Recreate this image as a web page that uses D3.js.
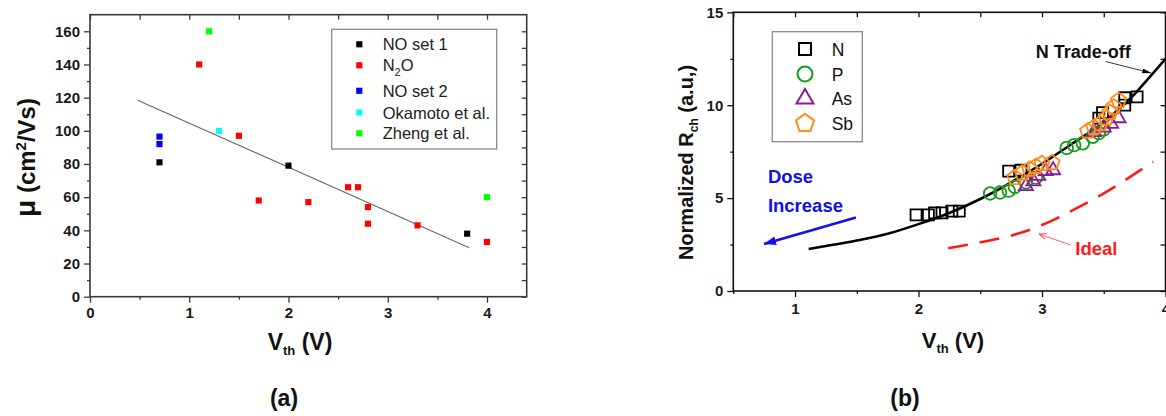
<!DOCTYPE html>
<html>
<head>
<meta charset="utf-8">
<script src="https://cdn.jsdelivr.net/npm/d3@7"></script>
<style>
  html, body { margin: 0; padding: 0; background: #fff; }
  svg { display: block; font-family: "Liberation Sans", Arial, sans-serif; }
</style>
</head>
<body>
<svg id="chart" width="1166" height="416"></svg>
<script>
// ---------- panel (a): mobility vs threshold voltage ----------
const aXTicks = [0, 1, 2, 3, 4];
const aXMinor = [0.5, 1.5, 2.5, 3.5];
const aYTicks = [0, 20, 40, 60, 80, 100, 120, 140, 160];
const aYMinor = [10, 30, 50, 70, 90, 110, 130, 150];

const aSeriesNames = ["NO set 1", "N2O", "NO set 2", "Okamoto et al.", "Zheng et al."];
const aSeriesColors = ["#000000", "#ff0000", "#0000ff", "#00ffff", "#00ff00"];

const noSet1Vth = [0.7, 2.0, 3.8];
const noSet1Mu  = [81, 79, 38];
const n2oVth = [1.1, 1.5, 1.7, 2.2, 2.6, 2.7, 2.8, 2.8, 3.3, 4.0];
const n2oMu  = [140, 97, 58, 57, 66, 66, 54, 44, 43, 33];
const noSet2Vth = [0.7, 0.7];
const noSet2Mu  = [96.5, 92];
const okamotoVth = [1.3];
const okamotoMu  = [100];
const zhengVth = [1.2, 4.0];
const zhengMu  = [160, 60];
const fitVth = [0.48, 3.82];
const fitMu  = [118.5, 29.5];

// ---------- panel (b): normalized channel resistance vs threshold voltage ----------
const bXTicks = [1, 2, 3, 4];
const bXMinor = [0.5, 1.5, 2.5, 3.5];
const bYTicks = [0, 5, 10, 15];
const bYMinor = [2.5, 7.5, 12.5];

const bSeriesNames = ["N", "P", "As", "Sb"];
const bSeriesColors = ["#000000", "#1a9a1a", "#8a1a9a", "#ff8c1a"];

const nVth = [1.98, 2.08, 2.13, 2.19, 2.27, 2.33, 2.73, 2.83, 3.46, 3.49, 3.67, 3.67, 3.77];
const nR   = [4.1, 4.1, 4.2, 4.2, 4.3, 4.3, 6.45, 6.5, 9.3, 9.6, 10.0, 10.4, 10.45];
const pVth = [2.58, 2.66, 2.73, 2.78, 2.87, 2.95, 3.2, 3.26, 3.33, 3.41, 3.46, 3.5];
const pR   = [5.25, 5.3, 5.4, 5.6, 5.85, 6.1, 7.7, 7.85, 7.95, 8.3, 8.5, 8.7];
const asVth = [2.87, 2.93, 2.97, 3.03, 3.09, 3.42, 3.5, 3.56, 3.62];
const asR   = [5.65, 5.9, 6.2, 6.45, 6.5, 8.55, 8.8, 9.0, 9.3];
const sbVth = [2.78, 2.84, 2.9, 2.95, 3.0, 3.08, 3.37, 3.42, 3.47, 3.52, 3.55, 3.58, 3.62];
const sbR   = [6.1, 6.35, 6.55, 6.7, 6.85, 6.9, 8.6, 8.8, 9.0, 9.3, 9.6, 9.9, 10.25];

const tradeVth = [1.11, 1.25, 1.5, 1.75, 2.0, 2.25, 2.5, 2.75, 3.0, 3.25, 3.5, 3.75, 3.87, 4.0];
const tradeR   = [2.26, 2.42, 2.72, 3.08, 3.6, 4.2, 4.95, 5.85, 6.85, 7.95, 9.1, 10.6, 11.5, 12.5];
const idealVth = [2.24, 2.5, 2.75, 3.0, 3.25, 3.5, 3.75, 3.9];
const idealR   = [2.3, 2.62, 2.98, 3.55, 4.35, 5.25, 6.3, 6.95];

const zip = (xs, ys) => xs.map((v, i) => [v, ys[i]]);

const svg = d3.select("#chart");
svg.append("rect").attr("width", 1166).attr("height", 416).attr("fill", "#fff");

const defs = svg.append("defs");
function arrowMarker(id, color, w, h, open) {
  const m = defs.append("marker").attr("id", id)
    .attr("viewBox", `0 0 ${w} ${h}`).attr("refX", w).attr("refY", h / 2)
    .attr("markerWidth", w).attr("markerHeight", h)
    .attr("markerUnits", "userSpaceOnUse").attr("orient", "auto");
  if (open) {
    m.append("path").attr("d", `M0,0L${w},${h / 2}L0,${h}`).attr("fill", "none")
      .attr("stroke", color).attr("stroke-width", 1);
  } else {
    m.append("path").attr("d", `M0,0L${w},${h / 2}L0,${h}Z`).attr("fill", color);
  }
}
arrowMarker("headBlue", "#1010ee", 12, 9, false);
arrowMarker("headBlack", "#000", 9, 5, false);
arrowMarker("headRed", "#ff4040", 8, 6, true);

// Framed axes: outer ticks with labels on bottom/left, inner ticks on top/right
function framedAxes(g, x, y, o) {
  const [x0, x1] = x.range(), [y0, y1] = y.range();
  const style = sel => {
    sel.select(".domain").remove();
    sel.selectAll("line").attr("stroke", o.color).attr("stroke-width", 1.3);
    sel.selectAll("text").attr("font-size", o.tickFont).attr("font-weight", "bold")
      .attr("fill", "#1a1a1a").attr("font-family", "'Liberation Sans', Arial, sans-serif");
  };
  g.append("g").attr("transform", `translate(0,${y0})`)
    .call(d3.axisBottom(x).tickValues(o.xMinor).tickSize(3).tickFormat("")).call(style);
  g.append("g").attr("transform", `translate(0,${y0})`)
    .call(d3.axisBottom(x).tickValues(o.xTicks).tickSize(6).tickPadding(o.xPad).tickFormat(d3.format("d"))).call(style);
  g.append("g").attr("transform", `translate(${x0},0)`)
    .call(d3.axisLeft(y).tickValues(o.yMinor).tickSize(3).tickFormat("")).call(style);
  g.append("g").attr("transform", `translate(${x0},0)`)
    .call(d3.axisLeft(y).tickValues(o.yTicks).tickSize(6).tickPadding(4).tickFormat(d3.format("d"))).call(style);
  g.append("g").attr("transform", `translate(0,${y1})`)
    .call(d3.axisTop(x).tickValues(o.xTicks.concat(o.xMinor)).tickSize(-5).tickFormat("")).call(style);
  g.append("g").attr("transform", `translate(${x1},0)`)
    .call(d3.axisRight(y).tickValues(o.yTicks.concat(o.yMinor)).tickSize(-5).tickFormat("")).call(style);
  g.append("rect").attr("x", x0).attr("y", y1).attr("width", x1 - x0).attr("height", y0 - y1)
    .attr("fill", "none").attr("stroke", o.color).attr("stroke-width", 1.6);
}

// ======================= panel (a) =======================
const xA = d3.scaleLinear().domain([0, 4.4]).range([90, 526.7]);
const yA = d3.scaleLinear().domain([0, 170]).range([296.7, 14.7]);
const gA = svg.append("g");

framedAxes(gA, xA, yA, { xTicks: aXTicks, xMinor: aXMinor, yTicks: aYTicks, yMinor: aYMinor,
  color: "#3a3a3a", tickFont: 15, xPad: 5 });

gA.append("path").datum(zip(fitVth, fitMu))
  .attr("d", d3.line().x(d => xA(d[0])).y(d => yA(d[1])))
  .attr("fill", "none").attr("stroke", "#6a6a6a").attr("stroke-width", 1.1);

const aData = [zip(noSet1Vth, noSet1Mu), zip(n2oVth, n2oMu), zip(noSet2Vth, noSet2Mu),
               zip(okamotoVth, okamotoMu), zip(zhengVth, zhengMu)];
const sq = d3.symbol(d3.symbolSquare, 38);
aData.forEach((pts, i) => {
  gA.selectAll(null).data(pts).enter().append("path")
    .attr("d", sq).attr("transform", d => `translate(${xA(d[0])},${yA(d[1])})`)
    .attr("fill", aSeriesColors[i]);
});

// legend (a)
const legA = gA.append("g");
legA.append("rect").attr("x", 331.7).attr("y", 29.3).attr("width", 165).attr("height", 119.7)
  .attr("fill", "#fff").attr("stroke", "#8a8a8a").attr("stroke-width", 1.3);
const legARows = [44.3, 65.3, 90.8, 112.5, 133.3];
aSeriesNames.forEach((name, i) => {
  legA.append("path").attr("d", sq).attr("transform", `translate(359.3,${legARows[i]})`)
    .attr("fill", aSeriesColors[i]);
  const t = legA.append("text").attr("x", 382.7).attr("y", legARows[i] + 6)
    .attr("font-size", 16.5).attr("fill", "#222");
  if (name === "N2O") {
    t.append("tspan").text("N");
    t.append("tspan").text("2").attr("font-size", 11).attr("dy", 5);
    t.append("tspan").text("O").attr("dy", -5);
  } else {
    t.text(name);
  }
});

// axis titles (a)
const yTitleA = gA.append("text").attr("transform", "translate(27,157.5) rotate(-90)")
  .attr("text-anchor", "middle").attr("dy", "0.35em")
  .attr("font-size", 24).attr("font-weight", "bold").attr("fill", "#111");
yTitleA.append("tspan").text("\u03bc").attr("font-size", 28);
yTitleA.append("tspan").text(" (cm");
yTitleA.append("tspan").text("2").attr("font-size", 15).attr("dy", -9);
yTitleA.append("tspan").text("/Vs)").attr("dy", 9);

const xTitleA = gA.append("text").attr("x", 300).attr("y", 350).attr("text-anchor", "middle")
  .attr("font-size", 23).attr("font-weight", "bold").attr("fill", "#111");
xTitleA.append("tspan").text("V");
xTitleA.append("tspan").text("th").attr("font-size", 13).attr("dy", 5);
xTitleA.append("tspan").text(" (V)").attr("dy", -5);

svg.append("text").attr("x", 284).attr("y", 406).attr("text-anchor", "middle")
  .attr("font-size", 23).attr("font-weight", "bold").attr("fill", "#111").text("(a)");

// ======================= panel (b) =======================
const xB = d3.scaleLinear().domain([0.5, 4]).range([733.3, 1165.5]);
const yB = d3.scaleLinear().domain([0, 15]).range([291, 12.3]);
const gB = svg.append("g");

framedAxes(gB, xB, yB, { xTicks: bXTicks, xMinor: bXMinor, yTicks: bYTicks, yMinor: bYMinor,
  color: "#111", tickFont: 15, xPad: 6 });

const lineB = d3.line().x(d => xB(d[0])).y(d => yB(d[1])).curve(d3.curveMonotoneX);
gB.append("path").datum(zip(idealVth, idealR)).attr("d", lineB)
  .attr("fill", "none").attr("stroke", "#ff1a1a").attr("stroke-width", 2.6)
  .attr("stroke-dasharray", "20,12");
gB.append("path").datum(zip(tradeVth, tradeR)).attr("d", lineB)
  .attr("fill", "none").attr("stroke", "#000").attr("stroke-width", 2.6);

function pentagon(r) {
  const pts = d3.range(5).map(i => {
    const a = -Math.PI / 2 + i * 2 * Math.PI / 5;
    return [r * Math.cos(a), r * Math.sin(a)];
  });
  return "M" + pts.map(p => p.join(",")).join("L") + "Z";
}
function triangle(s) {
  const h = s * Math.sqrt(3) / 2;
  return `M0,${-h * 2 / 3}L${s / 2},${h / 3}L${-s / 2},${h / 3}Z`;
}
const plotShapes = [
  d3.symbol(d3.symbolSquare, 121)(),
  d3.symbol(d3.symbolCircle, Math.PI * 6.3 * 6.3)(),
  triangle(14),
  pentagon(8)
];
const legShapes = [
  d3.symbol(d3.symbolSquare, 144)(),
  d3.symbol(d3.symbolCircle, Math.PI * 7.5 * 7.5)(),
  triangle(17),
  pentagon(9.5)
];
const bData = [zip(nVth, nR), zip(pVth, pR), zip(asVth, asR), zip(sbVth, sbR)];
bData.forEach((pts, i) => {
  gB.selectAll(null).data(pts).enter().append("path")
    .attr("d", plotShapes[i]).attr("transform", d => `translate(${xB(d[0])},${yB(d[1])})`)
    .attr("fill", "none").attr("stroke", bSeriesColors[i]).attr("stroke-width", 1.8);
});

// legend (b)
const legB = gB.append("g");
legB.append("rect").attr("x", 772.3).attr("y", 31.7).attr("width", 90).attr("height", 110)
  .attr("fill", "#fff").attr("stroke", "#8a8a8a").attr("stroke-width", 1.3);
const legBRows = [49, 74, 98.7, 123.3];
bSeriesNames.forEach((name, i) => {
  legB.append("path").attr("d", legShapes[i]).attr("transform", `translate(805,${legBRows[i]})`)
    .attr("fill", "none").attr("stroke", bSeriesColors[i]).attr("stroke-width", 2);
  legB.append("text").attr("x", 831.7).attr("y", legBRows[i] + 6.5)
    .attr("font-size", 17.5).attr("fill", "#111").text(name);
});

// annotations (b)
gB.append("text").attr("x", xB(2.95)).attr("y", yB(12.54)).attr("font-size", 18)
  .attr("font-weight", "bold").attr("fill", "#111").text("N Trade-off");
gB.append("line").attr("x1", xB(3.516)).attr("y1", yB(12.35)).attr("x2", xB(3.885)).attr("y2", yB(11.73))
  .attr("stroke", "#222").attr("stroke-width", 0.9).attr("marker-end", "url(#headBlack)");

gB.append("text").attr("x", xB(0.78)).attr("y", yB(5.8)).attr("font-size", 18.5)
  .attr("font-weight", "bold").attr("fill", "#1010ee").text("Dose");
gB.append("text").attr("x", xB(0.78)).attr("y", yB(4.24)).attr("font-size", 18.5)
  .attr("font-weight", "bold").attr("fill", "#1010ee").text("Increase");
gB.append("line").attr("x1", xB(1.493)).attr("y1", yB(3.95)).attr("x2", xB(0.749)).attr("y2", yB(2.53))
  .attr("stroke", "#1010ee").attr("stroke-width", 2.6).attr("marker-end", "url(#headBlue)");

gB.append("text").attr("x", xB(3.27)).attr("y", yB(1.94)).attr("font-size", 18.5)
  .attr("font-weight", "bold").attr("fill", "#ff1a1a").text("Ideal");
gB.append("line").attr("x1", xB(3.23)).attr("y1", yB(2.48)).attr("x2", xB(2.975)).attr("y2", yB(3.07))
  .attr("stroke", "#ff5050").attr("stroke-width", 0.9).attr("marker-end", "url(#headRed)");

// axis titles (b)
const yTitleB = gB.append("text").attr("transform", "translate(686,162.5) rotate(-90)")
  .attr("text-anchor", "middle").attr("dy", "0.35em")
  .attr("font-size", 20).attr("font-weight", "bold").attr("fill", "#111");
yTitleB.append("tspan").text("Normalized R");
yTitleB.append("tspan").text("ch").attr("font-size", 12).attr("dy", 5);
yTitleB.append("tspan").text(" (a.u,)").attr("dy", -5);

const xTitleB = gB.append("text").attr("x", 953).attr("y", 348.3).attr("text-anchor", "middle")
  .attr("font-size", 22).attr("font-weight", "bold").attr("fill", "#111");
xTitleB.append("tspan").text("V");
xTitleB.append("tspan").text("th").attr("font-size", 13).attr("dy", 5);
xTitleB.append("tspan").text(" (V)").attr("dy", -5);

svg.append("text").attr("x", 905).attr("y", 406).attr("text-anchor", "middle")
  .attr("font-size", 23).attr("font-weight", "bold").attr("fill", "#111").text("(b)");
</script>
</body>
</html>
